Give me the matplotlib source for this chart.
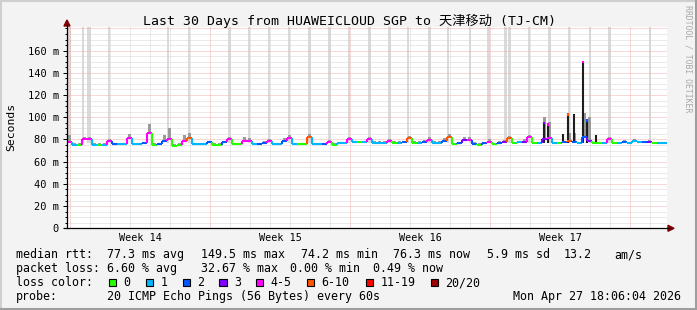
import numpy as np
import matplotlib
matplotlib.use("Agg")
import matplotlib.pyplot as plt
from matplotlib.collections import LineCollection
from matplotlib.patches import Rectangle, Polygon
from matplotlib.lines import Line2D

# --- data (one sample = 6 h, 30 days) ---
median_ms = [78, 75.1, 75.1, 80, 80, 75.3, 75.3, 75.3, 78.7, 75.5,
             75.5, 75.5, 81.7, 75.5, 75.5, 76.5, 86, 75, 75.5, 79,
             80.5, 74.3, 75, 79, 81, 75.7, 75.7, 75.7, 78, 75,
             75, 77.5, 80.5, 75.7, 75.7, 78.7, 78.7, 75.7, 75.7, 77,
             79, 75.5, 75.5, 79, 81.7, 75.5, 75.5, 75.5, 82.6, 75.5,
             75.5, 75.5, 78, 75, 76.5, 76.5, 80.5, 77.5, 77.5, 77.5,
             80.5, 77.2, 77.2, 77.2, 78.7, 77.2, 77.2, 77.5, 81, 77.2,
             77.2, 78, 79.8, 77.2, 77.2, 79, 82.6, 75.7, 76.5, 79.8,
             79.8, 76, 75, 76.5, 78, 75.7, 77, 78, 81, 76.6,
             77.5, 78, 82.6, 76.6, 76.6, 80, 81, 76.6, 76.6, 77.5,
             79, 78, 76.6, 82, 79, 76.6, 76.6, 76.6, 80.5, 76.6,
             76.6, 78, 76.6, 79, 77.5, 77.5, 78, 76.6, 76.6, 76.6]

# loss bucket index per sample (0 = no loss ... 7 = 20/20)
loss_bucket = [4, 1, 0, 4, 4, 1, 0, 1, 4, 2,
               1, 1, 4, 1, 1, 2, 4, 0, 2, 2,
               4, 0, 0, 4, 5, 1, 1, 1, 2, 0,
               0, 2, 4, 0, 0, 4, 4, 1, 2, 2,
               4, 1, 1, 2, 4, 1, 0, 0, 5, 1,
               1, 2, 4, 0, 1, 1, 4, 1, 0, 1,
               4, 1, 1, 1, 4, 0, 1, 2, 5, 0,
               1, 2, 4, 1, 1, 2, 5, 0, 2, 3,
               4, 2, 0, 2, 4, 0, 2, 3, 5, 0,
               1, 3, 4, 0, 1, 3, 4, 1, 0, 2,
               5, 2, 1, 2, 3, 0, 0, 1, 4, 0,
               1, 2, 1, 1, 1, 2, 3, 0, 1, 1]

smoke_top_ms = [84, 76.5, 76.5, 82.5, 82, 76.5, 76.5, 76.5, 80, 77,
                77, 77, 85, 77, 77, 78, 94, 76.5, 77, 84,
                90, 75.5, 76.5, 84, 86, 77, 77, 77, 79, 76.5,
                76.5, 79, 82, 77, 77, 82, 81, 77, 77, 78.5,
                80.5, 77, 77, 81, 84, 77, 77, 77, 85, 77,
                77, 77, 79.5, 76.5, 78, 78, 82, 79, 79, 79,
                82, 78.5, 78.5, 78.5, 80, 78.5, 78.5, 79, 83, 78.5,
                78.5, 79.5, 82, 78.5, 78.5, 81, 85, 77, 78, 82,
                82, 77.5, 76.5, 78, 80, 77, 78.5, 79.5, 83, 78,
                79, 80, 84, 78, 78, 100, 96, 78, 78, 79,
                86, 86, 78, 104, 100, 78, 78, 78, 82, 78,
                78, 79.5, 78, 80.5, 79, 79, 79.5, 78, 78, 78]

# dark single-sample spikes in week 17
spike_day = [23.825, 24.05, 24.8, 25.05, 25.35, 25.8, 26.0, 26.45]
spike_top_ms = [96, 95, 85, 104, 103, 151, 98, 84]
spike_cap = [3, 4, -1, 5, -1, 4, 2, -1]

# light grey full height columns (pings above the scale)
outage_day = [0.125, 0.8, 1.05, 1.15, 2.1, 5.05, 6.1, 8.125, 9.1, 10.1,
              11.1, 12.125, 13.125, 14.1, 15.125, 16.125, 17.05, 18.125, 19.05, 20.15,
              21.075, 21.925, 22.125, 23.1, 24.125, 25.1, 26.15, 27.125, 29.15]

loss_labels = ["0", "1", "2", "3", "4-5", "6-10", "11-19", "20/20"]
loss_colors = ["#26ff00", "#00b8ff", "#0059ff", "#7e00ff",
               "#ff00ff", "#ff5500", "#ff0000", "#a10000"]

week_names = ["Week 14", "Week 15", "Week 16", "Week 17"]
week_centers = [3.65, 10.65, 17.65, 24.65]
ytick_vals = [0, 20, 40, 60, 80, 100, 120, 140, 160]
ytick_text = ["0", "20 m", "40 m", "60 m", "80 m", "100 m", "120 m", "140 m", "160 m"]

title = "Last 30 Days from HUAWEICLOUD SGP to 天津移动 (TJ-CM)"
rtt_items = ["77.3 ms avg", "149.5 ms max", "74.2 ms min", "76.3 ms now", "5.9 ms sd", "13.2", "am/s"]
loss_items = ["6.60 % avg", "32.67 % max", "0.00 % min", "0.49 % now"]
probe_text = "20 ICMP Echo Pings (56 Bytes) every 60s"
stamp_text = "Mon Apr 27 18:06:04 2026"

MONO = "DejaVu Sans Mono"
W, H = 697, 310
YMAX = 181
STEP = 0.25

fig = plt.figure(figsize=(W / 100, H / 100), dpi=100, facecolor="#f3f3f3")
ax = fig.add_axes([67 / W, (H - 228.3) / H, 600 / W, 201 / H])
ax.set_facecolor("white")
ax.set_xlim(0, 30)
ax.set_ylim(0, YMAX)
for s in ax.spines.values():
    s.set_visible(False)

# 1. grid (dotted, rrdtool style)
dots = (0, (1, 1))
for y in range(5, YMAX, 5):
    c = "#f0b0b0" if y % 20 == 0 else "#d6d6d6"
    ax.axhline(y, color=c, lw=0.72, ls=dots, zorder=2)
for k in range(30):
    c = "#f0b0b0" if k % 7 == 0 else "#d6d6d6"
    ax.axvline(0.15 + k, color=c, lw=0.72, ls=dots, zorder=2)

# 2. grey columns, smoke, spikes
ax.bar(outage_day, YMAX - 77, bottom=77, width=0.13, color="#dadada", lw=0, zorder=1)

t = np.arange(len(median_ms)) * STEP
med = np.array(median_ms)
ax.bar(t + STEP / 2, np.array(smoke_top_ms) - med, bottom=med, width=STEP * 0.55,
       color="#9a9a9a", lw=0, zorder=3)
ax.vlines(spike_day, 77, spike_top_ms, color="#1e1e1e", lw=1.5, zorder=3.5)
for d, top, c in zip(spike_day, spike_top_ms, spike_cap):
    if c >= 0:
        ax.vlines(d, top - 2.5, top, color=loss_colors[c], lw=1.5, zorder=3.6)

# 3. median line coloured by loss bucket
segs, cols = [], []
for i, m in enumerate(median_ms):
    col = loss_colors[loss_bucket[i]]
    if i > 0 and median_ms[i - 1] != m:
        segs.append([(t[i], median_ms[i - 1]), (t[i], m)])
        cols.append(col)
    segs.append([(t[i], m), (t[i] + STEP, m)])
    cols.append(col)
ax.add_collection(LineCollection(segs, colors=cols, linewidths=1.5, capstyle="butt", zorder=4))

# 4. ticks
ax.set_yticks(ytick_vals)
ax.set_yticklabels(ytick_text, fontfamily=MONO, fontsize=7.5)
ax.set_yticks(range(5, YMAX, 5), minor=True)
ax.tick_params(axis="y", which="major", length=3, width=0.72, pad=2.9, direction="out")
ax.tick_params(axis="y", which="minor", length=1.8, width=0.72, direction="out")
ax.set_xticks(week_centers)
ax.set_xticklabels(week_names, fontfamily=MONO, fontsize=7.3)
ax.tick_params(axis="x", which="major", length=0, pad=3.2)

# 5. frame, axes arrows and text in pixel coordinates
deco = fig.add_axes([0, 0, 1, 1], zorder=5)
deco.set_xlim(0, W)
deco.set_ylim(H, 0)
deco.axis("off")

deco.add_line(Line2D([0, W], [1, 1], color="#cfcfcf", lw=1.5))
deco.add_line(Line2D([1, 1], [0, H], color="#cfcfcf", lw=1.5))
deco.add_line(Line2D([0, W], [H - 1.5, H - 1.5], color="#9e9e9e", lw=2.2))
deco.add_line(Line2D([W - 1.5, W - 1.5], [0, H], color="#9e9e9e", lw=2.2))

deco.add_line(Line2D([67, 67], [228.3, 25], color="black", lw=0.9))
deco.add_line(Line2D([64, 669], [228.3, 228.3], color="black", lw=0.9))
deco.add_patch(Polygon([[64, 26], [70, 26], [67, 20]], closed=True, color="#7f0000"))
deco.add_patch(Polygon([[668, 225.3], [668, 231.3], [674, 228.3]], closed=True, color="#7f0000"))

deco.text(143, 25.3, title, fontfamily=[MONO, "Noto Sans CJK SC"], fontsize=9.5, va="baseline")

deco.text(11, 126.5, "Seconds", fontfamily=MONO, fontsize=8.2, rotation=90, ha="center", va="center")
deco.text(688, 59, "RRDTOOL / TOBI OETIKER", fontfamily=MONO, fontsize=5.9, color="#a8a8a8",
          rotation=-90, ha="center", va="center")

fs = 8.35
deco.text(16, 258, "median rtt:", fontfamily=MONO, fontsize=fs, va="baseline")
for x, s in zip([107, 201, 301, 393, 487, 564, 614], rtt_items):
    deco.text(x, 258, s, fontfamily=MONO, fontsize=fs, va="baseline")

deco.text(16, 272, "packet loss:", fontfamily=MONO, fontsize=fs, va="baseline")
for x, s in zip([107, 201, 290, 373], loss_items):
    deco.text(x, 272, s, fontfamily=MONO, fontsize=fs, va="baseline")

deco.text(16, 286, "loss color:", fontfamily=MONO, fontsize=fs, va="baseline")
box_x = [108.7, 146, 182.7, 219.3, 256, 306.7, 366, 431]
for bx, lab, col in zip(box_x, loss_labels, loss_colors):
    deco.add_patch(Rectangle((bx, 278.6), 7.3, 7.3, facecolor=col, edgecolor="black", lw=0.8))
    deco.text(bx + 14.5, 286, lab, fontfamily=MONO, fontsize=fs, va="baseline")

deco.text(16, 300, "probe:", fontfamily=MONO, fontsize=fs, va="baseline")
deco.text(107, 300, probe_text, fontfamily=MONO, fontsize=fs, va="baseline")
deco.text(513, 300, stamp_text, fontfamily=MONO, fontsize=fs, va="baseline")

fig.savefig("out.png", dpi=100, facecolor=fig.get_facecolor())
